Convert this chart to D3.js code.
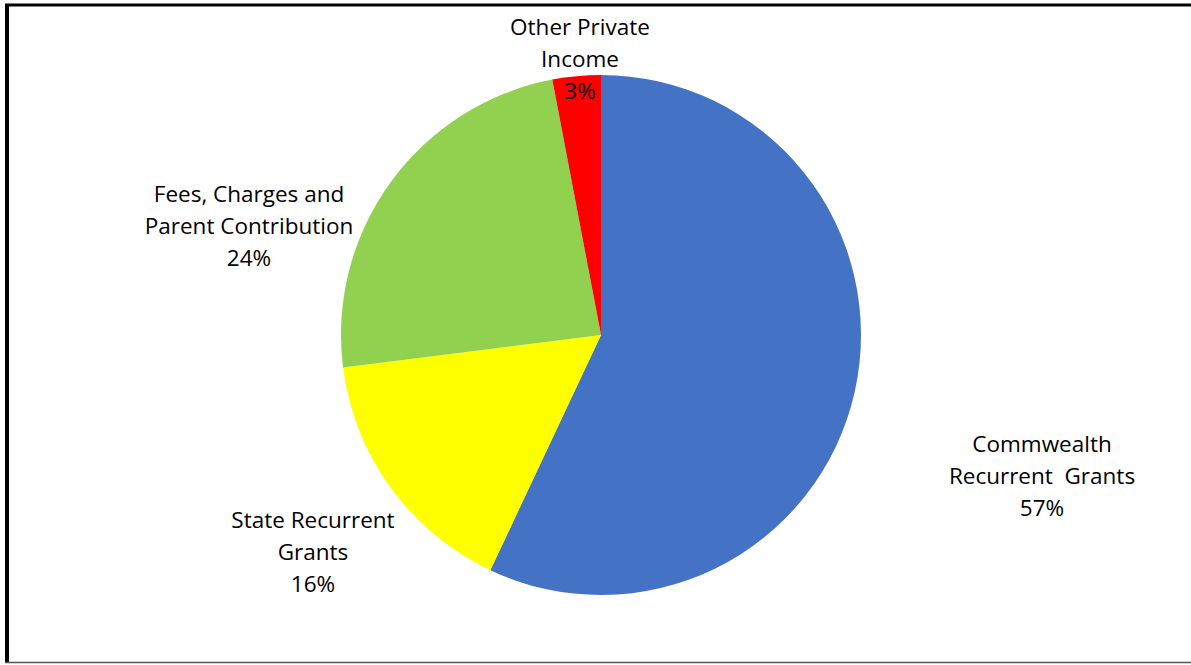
<!DOCTYPE html>
<html>
<head>
<meta charset="utf-8">
<script src="https://cdn.jsdelivr.net/npm/d3@7/dist/d3.min.js"></script>
<style>
  html, body { margin: 0; padding: 0; background: #fff; }
  svg { display: block; }
  .lbl { font-family: "Open Sans", "Noto Sans", sans-serif; font-size: 22.5px; fill: #000; white-space: pre; }
</style>
</head>
<body>
<svg id="chart" width="1191" height="665"></svg>
<script>
// ── Data ──────────────────────────────────────────────────────────────────
const categories = ['Commwealth Recurrent  Grants', 'State Recurrent Grants',
                    'Fees, Charges and Parent Contribution', 'Other Private Income'];
const values = [57, 16, 24, 3];
const colors = ['#4472C4', '#FFFF00', '#92D050', '#FF0000'];
// label text lines (as wrapped in the original)
const labelLines = [
  ['Commwealth', 'Recurrent  Grants'],
  ['State Recurrent', 'Grants'],
  ['Fees, Charges and', 'Parent Contribution'],
  ['Other Private', 'Income']
];

// ── Layout ────────────────────────────────────────────────────────────────
const W = 1191, H = 665;
const cx = 601, cy = 335, R = 260;
const LINE = 32;
// label block centres (x, y of first line centre)
const labelPos = [[1042, 443], [313, 519], [249, 193], [580, 26]];

const svg = d3.select('#chart');

// frame: thick top/left, thin grey bottom
svg.append('line').attr('x1', 5).attr('x2', W).attr('y1', 5).attr('y2', 5)
  .attr('stroke', '#000').attr('stroke-width', 3);
svg.append('line').attr('x1', 7).attr('x2', 7).attr('y1', 4).attr('y2', 663)
  .attr('stroke', '#000').attr('stroke-width', 4);
svg.append('line').attr('x1', 5).attr('x2', W).attr('y1', 662.5).attr('y2', 662.5)
  .attr('stroke', '#555').attr('stroke-width', 1.5);

const pie = d3.pie().sort(null).value(d => d)(values);
const arc = d3.arc().innerRadius(0).outerRadius(R);

const g = svg.append('g').attr('transform', `translate(${cx},${cy})`);
g.selectAll('path').data(pie).join('path')
  .attr('d', arc)
  .attr('fill', (d, i) => colors[i]);

// ── Labels ────────────────────────────────────────────────────────────────
categories.forEach((c, i) => {
  const [lx, ly] = labelPos[i];
  const lines = labelLines[i].concat([values[i] + '%']);
  const t = svg.append('text').attr('class', 'lbl')
    .attr('text-anchor', 'middle').attr('dominant-baseline', 'central');
  lines.forEach((s, k) => {
    t.append('tspan').attr('x', lx).attr('y', ly + k * LINE).text(s);
  });
});
</script>
</body>
</html>
